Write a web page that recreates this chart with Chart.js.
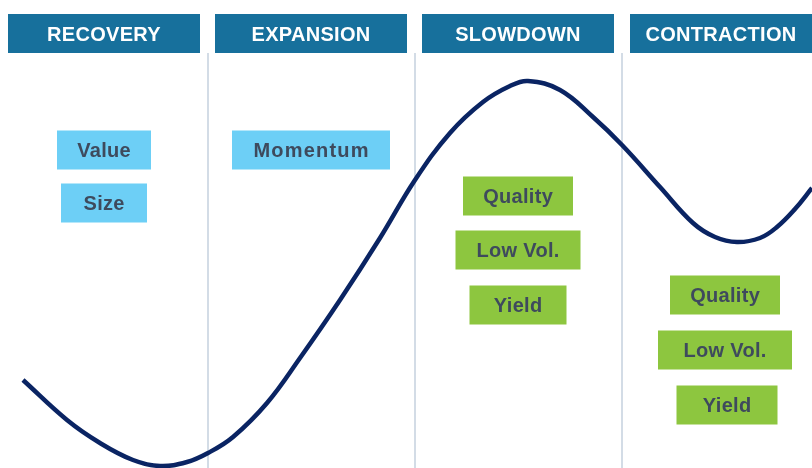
<!DOCTYPE html>
<html><head><meta charset="utf-8">
<script src="https://cdn.jsdelivr.net/npm/chart.js@4/dist/chart.umd.min.js"></script>
<style>html,body{margin:0;padding:0;background:#fff}#wrap{width:812px;height:468px;position:relative}</style>
</head><body><div id="wrap"><canvas id="c" width="812" height="468"></canvas></div>
<script>
// ---- data ----
const phases = ['RECOVERY', 'EXPANSION', 'SLOWDOWN', 'CONTRACTION'];
const phaseDividers = [207.5, 415, 622];
const phaseFactors = [
  ['Value', 'Size'],
  ['Momentum'],
  ['Quality', 'Low Vol.', 'Yield'],
  ['Quality', 'Low Vol.', 'Yield']
];
const cycleX = [23, 67, 100, 133, 160, 187, 208, 233, 267, 300, 340, 380, 415, 450, 483, 510, 528, 560, 593, 622, 660, 693, 715, 737, 760, 777, 795, 812];
const cycleLevel = [88, 48, 25, 8, 2, 6, 15, 31, 65, 110, 168, 230, 288, 335, 366, 382, 387, 378, 351, 323, 281, 245, 231, 226, 230, 241, 259, 280];

// ---- layout (positions / sizes / styles) ----
const headerRanges = [[8, 200], [215, 407], [422, 614], [630, 812]];
const headerTop = 454, headerBottom = 415; // in level units (468 - px)
const factorLayout = [
  [{cx: 104, cy: 318, w: 94}, {cx: 104, cy: 265, w: 86}],
  [{cx: 311, cy: 318, w: 158, ls: 1.2}],
  [{cx: 518, cy: 272, w: 110}, {cx: 518, cy: 218, w: 125}, {cx: 518, cy: 163, w: 97}],
  [{cx: 725, cy: 173, w: 110}, {cx: 725, cy: 118, w: 134}, {cx: 727, cy: 63, w: 101}]
];
const boxH = 39;
const factorColors = ['#6DCFF6', '#6DCFF6', '#8DC63F', '#8DC63F'];
const headerColor = '#17709C';
const textColor = '#3E4A5D';
const dividerColor = '#D3DCE6';

const overlay = {
  id: 'overlay',
  beforeDatasetsDraw(chart) {
    const {ctx, scales: {x, y}} = chart;
    ctx.save();
    ctx.strokeStyle = dividerColor;
    ctx.lineWidth = 2;
    phaseDividers.forEach(d => {
      const px = Math.round(x.getPixelForValue(d));
      ctx.beginPath();
      ctx.moveTo(px, y.getPixelForValue(headerBottom));
      ctx.lineTo(px, y.getPixelForValue(0));
      ctx.stroke();
    });
    ctx.restore();
  },
  afterDatasetsDraw(chart) {
    const {ctx, scales: {x, y}} = chart;
    ctx.save();
    ctx.textAlign = 'center';
    ctx.textBaseline = 'middle';
    phases.forEach((p, i) => {
      const [a, b] = headerRanges[i];
      const x0 = x.getPixelForValue(a), x1 = x.getPixelForValue(b);
      const y0 = y.getPixelForValue(headerTop), y1 = y.getPixelForValue(headerBottom);
      ctx.fillStyle = headerColor;
      ctx.fillRect(x0, y0, x1 - x0, y1 - y0);
      ctx.fillStyle = '#ffffff';
      ctx.font = 'bold 20px "Liberation Sans", Arial, sans-serif';
      ctx.letterSpacing = '0.3px';
      ctx.fillText(p, (x0 + x1) / 2, (y0 + y1) / 2 + 1.5);
      phaseFactors[i].forEach((f, j) => {
        const L = factorLayout[i][j];
        const cx = x.getPixelForValue(L.cx), cy = y.getPixelForValue(L.cy);
        ctx.fillStyle = factorColors[i];
        ctx.fillRect(cx - L.w / 2, cy - boxH / 2, L.w, boxH);
        ctx.fillStyle = textColor;
        ctx.font = 'bold 20px "Liberation Sans", Arial, sans-serif';
        const ls = (L.ls || 0.3);
        ctx.letterSpacing = ls + 'px';
        ctx.fillText(f, cx + ls / 2, cy + 1.5);
      });
    });
    ctx.restore();
  }
};

new Chart(document.getElementById('c'), {
  type: 'line',
  data: {
    datasets: [{
      data: cycleX.map((v, i) => ({x: v, y: cycleLevel[i]})),
      borderColor: '#0A2463',
      borderWidth: 4.5,
      pointRadius: 0,
      tension: 0.4,
      fill: false,
      clip: false
    }]
  },
  options: {
    responsive: false,
    animation: false,
    layout: {padding: 0},
    plugins: {legend: {display: false}, tooltip: {enabled: false}},
    scales: {
      x: {type: 'linear', min: 0, max: 812, display: false},
      y: {type: 'linear', min: 0, max: 468, display: false}
    }
  },
  plugins: [overlay]
});
</script>
</body></html>
